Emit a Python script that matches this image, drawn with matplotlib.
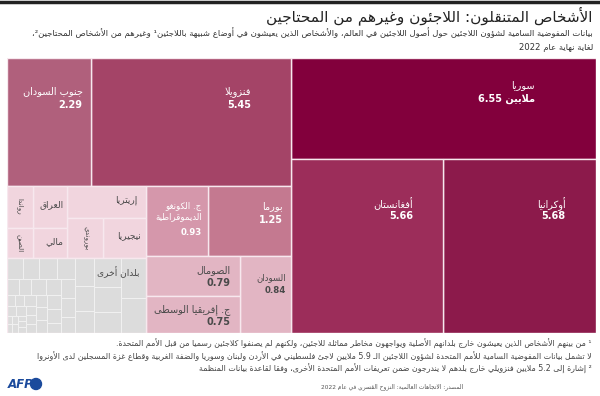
import re
import numpy as np
import matplotlib
matplotlib.use("Agg")
import matplotlib.pyplot as plt
from matplotlib.patches import Rectangle, Ellipse

# ---- data (millions of people, end of 2022) ----
keys = ['SYR', 'UKR', 'AFG', 'VEN', 'SSD', 'MMR', 'COD', 'SDN', 'SOM', 'CAF',
        'ERI', 'NGA', 'BDI', 'IRQ', 'RWA', 'MLI', 'CHN']
names = ['سوريا', 'أوكرانيا', 'أفغانستان', 'فنزويلا', 'جنوب السودان', 'بورما',
         'ج. الكونغو\nالديموقراطية', 'السودان', 'الصومال', 'ج. إفريقيا الوسطى',
         'إريتريا', 'نيجيريا', 'بوروندي', 'العراق', 'رواندا', 'مالي', 'الصين']
values = [6.55, 5.68, 5.66, 5.45, 2.29, 1.25, 0.93, 0.84, 0.79, 0.75,
          0.54, 0.38, 0.31, 0.31, 0.24, 0.22, 0.17]
shown = ['SYR', 'UKR', 'AFG', 'VEN', 'SSD', 'MMR', 'COD', 'SDN', 'SOM', 'CAF']
vertical = ['BDI', 'RWA', 'CHN']
others_name = 'بلدان أخرى'
others_values = [0.22, 0.19, 0.16, 0.14, 0.12, 0.11, 0.10, 0.09, 0.08, 0.08,
                 0.07, 0.07, 0.06, 0.06, 0.05, 0.05, 0.05, 0.04, 0.04, 0.04,
                 0.04, 0.03, 0.03, 0.03, 0.03, 0.03, 0.02, 0.02, 0.02, 0.02,
                 0.02, 0.02, 0.02, 0.01, 0.01, 0.01, 0.01, 0.01, 0.01, 0.01]

colors = {'SYR': '#82003c', 'UKR': '#8c1a4b', 'AFG': '#9c2d5a', 'VEN': '#a44467',
          'SSD': '#b0607c', 'MMR': '#c47990', 'COD': '#d597ab', 'SDN': '#e2b5c3',
          'SOM': '#e2b5c3', 'CAF': '#e2b5c3'}
pale = '#f1d5de'
grey = '#dcdcdc'

title = 'الأشخاص المتنقلون: اللاجئون وغيرهم من المحتاجين'
sub1 = ('بيانات المفوضية السامية لشؤون اللاجئين حول أصول اللاجئين في العالم، '
        'والأشخاص الذين يعيشون في أوضاع شبيهة باللاجئين¹ وغيرهم من الأشخاص المحتاجين²،')
sub2 = 'لغاية نهاية عام 2022'
notes = ['¹ من بينهم الأشخاص الذين يعيشون خارج بلدانهم الأصلية ويواجهون مخاطر مماثلة للاجئين، '
         'ولكنهم لم يصنفوا كلاجئين رسميا من قبل الأمم المتحدة.',
         'لا تشمل بيانات المفوضية السامية للأمم المتحدة لشؤون اللاجئين الـ 5.9 ملايين لاجئ فلسطيني '
         'في الأردن ولبنان وسوريا والضفة الغربية وقطاع غزة المسجلين لدى الأونروا',
         '² إشارة إلى 5.2 ملايين فنزويلي خارج بلدهم لا يندرجون ضمن تعريفات الأمم المتحدة الأخرى، '
         'وفقا لقاعدة بيانات المنظمة']
source = 'المصدر: الاتجاهات العالمية: النزوح القسري في عام 2022'

# ---- minimal Arabic shaping + right-to-left ordering ----
DUAL = {0x626: 0xFE89, 0x628: 0xFE8F, 0x62A: 0xFE95, 0x62B: 0xFE99, 0x62C: 0xFE9D,
        0x62D: 0xFEA1, 0x62E: 0xFEA5, 0x633: 0xFEB1, 0x634: 0xFEB5, 0x635: 0xFEB9,
        0x636: 0xFEBD, 0x637: 0xFEC1, 0x638: 0xFEC5, 0x639: 0xFEC9, 0x63A: 0xFECD,
        0x641: 0xFED1, 0x642: 0xFED5, 0x643: 0xFED9, 0x644: 0xFEDD, 0x645: 0xFEE1,
        0x646: 0xFEE5, 0x647: 0xFEE9, 0x64A: 0xFEF1}
RIGHT = {0x622: 0xFE81, 0x623: 0xFE83, 0x624: 0xFE85, 0x625: 0xFE87, 0x627: 0xFE8D,
         0x629: 0xFE93, 0x62F: 0xFEA9, 0x630: 0xFEAB, 0x631: 0xFEAD, 0x632: 0xFEAF,
         0x648: 0xFEED, 0x649: 0xFEEF}
LAMALEF = {0x622: 0xFEF5, 0x623: 0xFEF7, 0x625: 0xFEF9, 0x627: 0xFEFB}
TATWEEL = 0x640


def shape(s):
    out = []
    i, n = 0, len(s)
    while i < n:
        o = ord(s[i])
        prev_conn = i > 0 and (ord(s[i - 1]) in DUAL or ord(s[i - 1]) == TATWEEL)
        if o == 0x644 and i + 1 < n and ord(s[i + 1]) in LAMALEF:
            b = LAMALEF[ord(s[i + 1])]
            out.append(chr(b + 1 if prev_conn else b))
            i += 2
            continue
        nxt = ord(s[i + 1]) if i + 1 < n else 0
        next_conn = nxt in DUAL or nxt in RIGHT or nxt == TATWEEL
        if o in DUAL:
            b = DUAL[o]
            if prev_conn and next_conn:
                f = b + 3
            elif prev_conn:
                f = b + 1
            elif next_conn:
                f = b + 2
            else:
                f = b
        elif o in RIGHT:
            f = RIGHT[o] + 1 if prev_conn else RIGHT[o]
        elif o == 0x621:
            f = 0xFE80
        else:
            f = o
        out.append(chr(f))
        i += 1
    return ''.join(out)


def ar(s):
    lines = []
    for line in s.split('\n'):
        parts = re.split(r'([0-9A-Za-z]+(?:\.[0-9]+)*)', shape(line))
        parts = [p if re.fullmatch(r'[0-9A-Za-z]+(?:\.[0-9]+)*', p) else p[::-1]
                 for p in parts]
        lines.append(''.join(parts[::-1]))
    return '\n'.join(lines)


# ---- treemap layout ----
val = dict(zip(keys, values))
val['OTH'] = sum(others_values)

pinks = ('h', [('v', [('h', ['RWA', 'IRQ']), ('h', ['CHN', 'MLI'])]),
               ('v', ['ERI', ('h', ['BDI', 'NGA'])])])
bottom = ('h', [('v', [pinks, 'OTH']),
                ('v', [('h', ['COD', 'MMR']), ('h', [('v', ['SOM', 'CAF']), 'SDN'])])])
tree = ('h', [('v', [('h', ['SSD', 'VEN']), bottom]),
              ('v', ['SYR', ('h', ['AFG', 'UKR'])])])


def node_sum(node):
    if isinstance(node, str):
        return val[node]
    return sum(node_sum(k) for k in node[1])


def layout(node, x, y, w, h, out):
    if isinstance(node, str):
        out[node] = (x, y, w, h)
        return
    d, kids = node
    tot = node_sum(node)
    pos = x if d == 'h' else y
    for k in kids:
        f = node_sum(k) / tot
        if d == 'h':
            layout(k, pos, y, w * f, h, out)
            pos += w * f
        else:
            layout(k, x, pos, w, h * f, out)
            pos += h * f


def squarify(vals, x, y, w, h):
    rects = []
    scale = w * h / sum(vals)
    areas = [v * scale for v in vals]

    def worst(r, s):
        sr = sum(r)
        return max(max(s * s * a / (sr * sr), sr * sr / (s * s * a)) for a in r)

    while areas:
        short = min(w, h)
        row = [areas[0]]
        i = 1
        while i < len(areas) and worst(row + [areas[i]], short) <= worst(row, short):
            row.append(areas[i])
            i += 1
        sr = sum(row)
        if w >= h:
            cw = sr / h
            cy = y
            for a in row:
                rects.append((x, cy, cw, a / cw))
                cy += a / cw
            x += cw
            w -= cw
        else:
            rh = sr / w
            cx = x
            for a in row:
                rects.append((cx, y, a / rh, rh))
                cx += a / rh
            y += rh
            h -= rh
        areas = areas[i:]
    return rects


total = node_sum(tree)
W = np.sqrt(total * 589 / 275)
H = total / W
px = 589 / W  # pixels per data unit
rects = {}
layout(tree, 0, 0, W, H, rects)

fig = plt.figure(figsize=(6, 3.96), dpi=100)
fig.patch.set_facecolor('white')
plt.rcParams['font.family'] = ['DejaVu Sans']

ax = fig.add_axes([7 / 600, 1 - 333 / 396, 589 / 600, 275 / 396])
ax.set_xlim(0, W)
ax.set_ylim(H, 0)
ax.axis('off')

for k in keys:
    x, y, w, h = rects[k]
    c = colors.get(k, pale)
    ax.add_patch(Rectangle((x, y), w, h, facecolor=c, edgecolor='#f7e8ee', lw=1.0))
    dark = k in ('SYR', 'UKR', 'AFG', 'VEN', 'SSD', 'MMR', 'COD')
    tc = 'white' if dark else '#4a4a4a'
    name = names[keys.index(k)]
    if k in shown:
        fs = 7 if w * px >= 75 else 6.2
        frac = 0.8 if w * px > 120 else 0.9
        num = f'{val[k]:.2f}'
        if k == 'SYR':
            num = 'ملايين ' + num
        tx = x + w * frac
        ty = y + h * 0.22
        ax.text(tx, ty, ar(name), ha='right', va='top', fontsize=fs, color=tc,
                linespacing=1.25)
        nl = name.count('\n') + 1
        ax.text(tx, ty + nl * 13.5 / px, ar(num), ha='right', va='top',
                fontsize=fs, fontweight='bold', color=tc)
    elif k in vertical:
        ax.text(x + w / 2, y + h / 2, ar(name), ha='center', va='center', rotation=-90,
                fontsize=5.2, color=tc)
    else:
        ax.text(x + w * 0.88, y + h * 0.45, ar(name), ha='right', va='center',
                fontsize=6.5, color=tc)

ox, oy, ow, oh = rects['OTH']
for (x, y, w, h) in squarify(sorted(others_values, reverse=True), ox, oy, ow, oh):
    ax.add_patch(Rectangle((2 * ox + ow - x - w, y), w, h, facecolor=grey,
                           edgecolor='#f2f2f2', lw=0.6))
ax.add_patch(Rectangle((ox, oy), ow, oh, facecolor='none', edgecolor='#f7e8ee', lw=1.0))
ax.text(ox + ow * 0.95, oy + oh * 0.18, ar(others_name), ha='right', va='center',
        fontsize=6.5, color='#4a4a4a')

# ---- texts ----
fig.add_artist(plt.Line2D([0, 1], [1 - 1.5 / 396, 1 - 1.5 / 396], color='#222222', lw=2.5))
fig.text(592 / 600, 1 - 16 / 396, ar(title), ha='right', va='center', fontsize=11,
         color='#222222')
fig.text(593 / 600, 1 - 33 / 396, ar(sub1), ha='right', va='center', fontsize=6.1,
         color='#333333')
fig.text(593 / 600, 1 - 47 / 396, ar(sub2), ha='right', va='center', fontsize=6.1,
         color='#333333')
for i, line in enumerate(notes):
    fig.text(592 / 600, 1 - (343 + 13 * i) / 396, ar(line), ha='right', va='center',
             fontsize=5.7, color='#444444')
fig.text(463 / 600, 1 - 387 / 396, ar(source), ha='right', va='center', fontsize=4.2,
         color='#555555')

fig.text(8 / 600, 1 - 384 / 396, 'AFP', ha='left', va='center', fontsize=8.5,
         fontweight='bold', style='italic', color='#1b4a9c')
fig.add_artist(Ellipse((36 / 600, 1 - 384 / 396), 11 / 600, 11 / 396,
                       transform=fig.transFigure, color='#1b4a9c'))

fig.savefig('out.png', dpi=100)
